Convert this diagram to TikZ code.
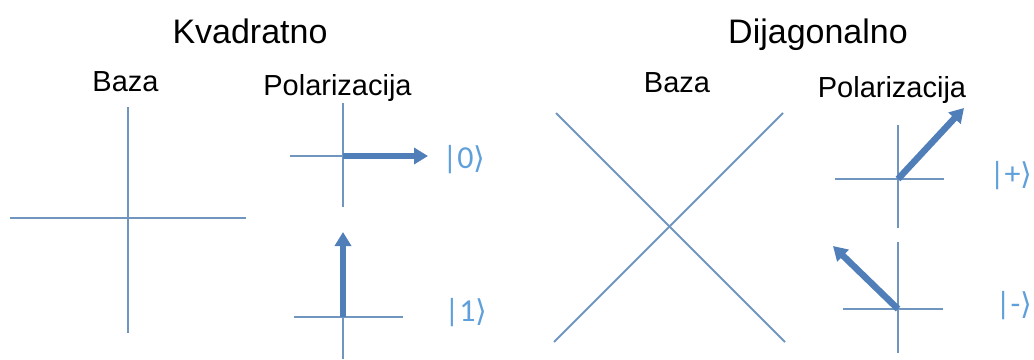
\documentclass[tikz,border=0pt]{standalone}
\usepackage{fontspec}
\setmainfont{Liberation Sans}
\newfontfamily\ketfont{Carlito}
\newfontfamily\angfont{DejaVu Sans}
\usetikzlibrary{arrows.meta}
\definecolor{axis}{HTML}{7096C0}
\definecolor{arr}{HTML}{4F7EB8}
\definecolor{ket}{HTML}{5FA0DA}
\newcommand{\rang}{{\angfont\fontsize{30}{32}\selectfont ⟩}}
\tikzset{
  axisline/.style={draw=axis, line width=2pt},
  polarrow/.style={draw=arr, line width=6.5pt, -{Triangle[length=14pt,width=16pt]}},
  title/.style={anchor=base, font=\fontsize{34}{36}\selectfont},
  sub/.style={anchor=base, font=\fontsize{29}{31}\selectfont},
  ketlab/.style={text=ket, font=\ketfont\fontsize{32}{34}\selectfont, inner sep=0pt}
}
\begin{document}
\begin{tikzpicture}[x=1pt,y=-1pt]
\useasboundingbox (0,0) rectangle (1034,359);
% titles
\node[title] (kv) at (250,43) {Kvadratno};
\node[title] (dij) at (818,43) {Dijagonalno};
\node[sub] (bazaL) at (125.5,91) {Baza};
\node[sub] (polL) at (337.5,95) {Polarizacija};
\node[sub] (bazaR) at (677,92) {Baza};
\node[sub] (polR) at (892,97) {Polarizacija};
% left base
\draw[axisline] (128,107) -- (128,333);
\draw[axisline] (10,218) -- (246,218);
% right base X
\draw[axisline] (556,113) -- (785,342);
\draw[axisline] (783,113) -- (554,342);
% |0>
\coordinate (o0) at (343,156);
\coordinate (t0) at (428,156);
\draw[axisline] (343,103) -- (343,207);
\draw[axisline] (290,156) -- (396,156);
\draw[polarrow] (o0) -- (t0);
\node[ketlab] (k0) at (464,160) {|0\rang};
% |1>
\coordinate (o1) at (343,317);
\coordinate (t1) at (343,232);
\draw[axisline] (343,270) -- (343,359);
\draw[axisline] (294,317) -- (403,317);
\draw[polarrow] (o1) -- (t1);
\node[ketlab] (k1) at (466,313) {|1\rang};
% |+>
\coordinate (op) at (898,179);
\coordinate (tp) at (964,108);
\draw[axisline] (898,125) -- (898,228);
\draw[axisline] (835,179) -- (944,179);
\draw[polarrow] (op) -- (tp);
\node[ketlab] (kp) at (1011,176) {|+\rang};
% |->
\coordinate (om) at (898,309);
\coordinate (tm) at (833,246);
\draw[axisline] (898,242) -- (898,353);
\draw[axisline] (843,309) -- (943,309);
\draw[polarrow] (om) -- (tm);
\node[ketlab] (km) at (1014,306) {|-\rang};
\end{tikzpicture}
\end{document}
